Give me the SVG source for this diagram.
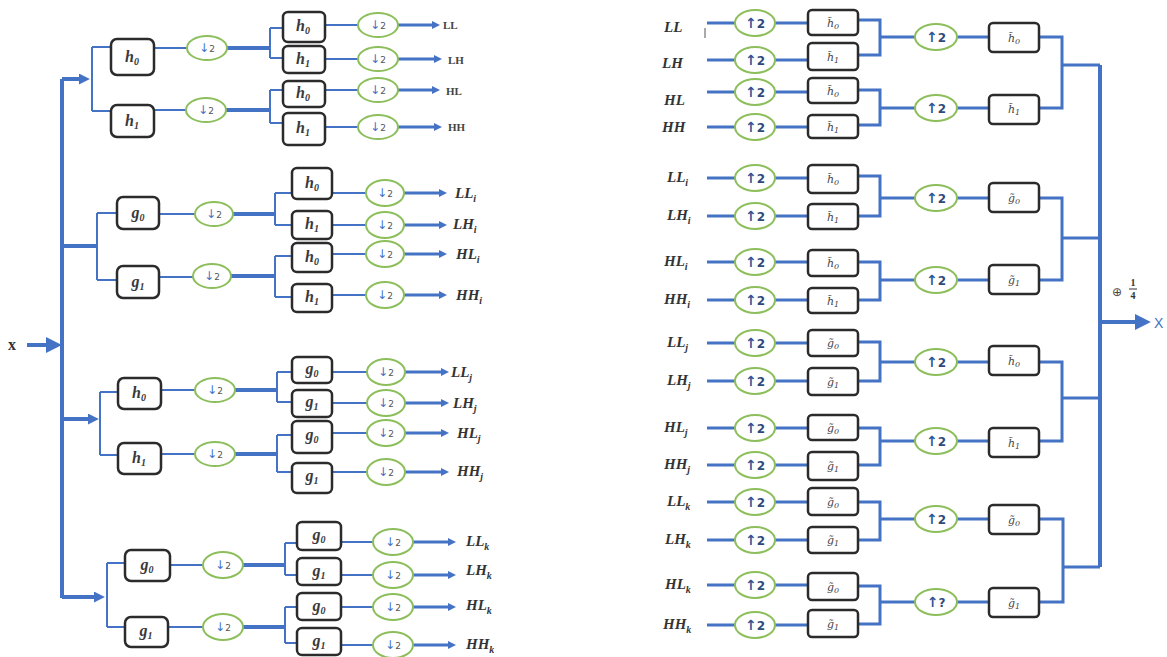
<svg xmlns="http://www.w3.org/2000/svg" width="1167" height="657" viewBox="0 0 1167 657">
<defs>
<style>
.ln{stroke:#4472C4;stroke-width:2;fill:none}
.md{stroke:#4472C4;stroke-width:3;fill:none}
.tk{stroke:#4472C4;stroke-width:4;fill:none}
.bx{fill:#fff;stroke:#2b2b2b;stroke-width:2.5}
.el{fill:#fff;stroke:#8CBF5B;stroke-width:2}
.bt{font-family:"Liberation Serif",serif;font-style:italic;font-weight:bold;font-size:16px;fill:#3a3a3a;text-anchor:middle}
.bs{font-size:10px}
.rt{font-family:"DejaVu Serif","Liberation Serif",serif;font-style:italic;font-size:11px;fill:#444;text-anchor:middle}
.rs{font-size:8px}
.dt{font-family:"DejaVu Sans",sans-serif;text-anchor:middle}
.dn{font-size:12px;fill:#4472C4}
.d2{font-size:9px;fill:#555}
.up{font-size:14px;font-weight:bold;fill:#2F5597}
.u2{font-size:12px;font-weight:bold;fill:#2F4A7A}
.lt{font-family:"Liberation Serif",serif;font-weight:bold;font-size:11px;fill:#444}
.lbl{font-family:"Liberation Serif",serif;font-weight:bold;font-style:italic;font-size:15px;fill:#333}
.sb{font-size:10px}
</style>
<marker id="as" viewBox="0 0 8 8" refX="1" refY="4" markerWidth="8" markerHeight="8" markerUnits="userSpaceOnUse" orient="auto"><path d="M0 0L8 4L0 8z" fill="#4472C4"/></marker>
<marker id="am" viewBox="0 0 10 10" refX="1" refY="5" markerWidth="11" markerHeight="11" markerUnits="userSpaceOnUse" orient="auto"><path d="M0 0L10 5L0 10z" fill="#4472C4"/></marker>
<marker id="al" viewBox="0 0 14 14" refX="1" refY="7" markerWidth="16" markerHeight="16" markerUnits="userSpaceOnUse" orient="auto"><path d="M0 0L14 7L0 14z" fill="#4472C4"/></marker>
</defs>
<rect width="1167" height="657" fill="#fff"/>

<g id="connectors">
<path class="tk" d="M27 345H47" stroke-width="7" marker-end="url(#al)"/>
<path class="tk" d="M62 79V598"/>
<path class="tk" d="M62 79H80" marker-end="url(#am)"/>
<path class="tk" d="M62 246H97" stroke-width="6"/>
<path class="tk" d="M62 419H89" stroke-width="5" marker-end="url(#am)"/>
<path class="tk" d="M62 597H95" marker-end="url(#am)"/>
<path class="ln" d="M92 47V111M92 47H111M92 111H111M154 48H187M154 110H186"/>
<path class="tk" d="M227 48H270M226 110H270"/>
<path class="ln" d="M270 28V58M270 28H283M270 58H283M270 90V123M270 90H283M270 123H283"/>
<path class="ln" d="M325 25H358M325 59H358M325 90H358M325 127H358"/>
<path class="md" d="M398 25H433" marker-end="url(#as)"/>
<path class="md" d="M398 59H435" marker-end="url(#as)"/>
<path class="md" d="M398 90H433" marker-end="url(#as)"/>
<path class="md" d="M398 127H435" marker-end="url(#as)"/>
<path class="ln" d="M97 213V280M97 213H117M97 280H117M159 214H195M159 277H193"/>
<path class="tk" d="M233 214H275M231 276H275"/>
<path class="ln" d="M275 193V225M275 193H292M275 225H292M275 256V297M275 256H292M275 297H292"/>
<path class="ln" d="M332 193H366M332 225H366M332 254H366M332 295H366"/>
<path class="md" d="M404 193H440" marker-end="url(#as)"/>
<path class="md" d="M404 225H440" marker-end="url(#as)"/>
<path class="md" d="M404 254H440" marker-end="url(#as)"/>
<path class="md" d="M404 295H440" marker-end="url(#as)"/>
<path class="ln" d="M100 392V455M100 392H118M100 455H118M161 390H195M161 454H195"/>
<path class="tk" d="M235 390H277M235 454H277"/>
<path class="ln" d="M277 372V402M277 372H292M277 402H292M277 435V472M277 435H292M277 472H292"/>
<path class="ln" d="M332 372H367M332 403H367M332 433H367M332 472H367"/>
<path class="md" d="M405 372H442" marker-end="url(#as)"/>
<path class="md" d="M405 403H442" marker-end="url(#as)"/>
<path class="md" d="M405 433H442" marker-end="url(#as)"/>
<path class="md" d="M405 472H442" marker-end="url(#as)"/>
<path class="ln" d="M107 563V627M107 563H125M107 627H125M170 565H203M168 627H203"/>
<path class="tk" d="M243 565H285M243 627H285"/>
<path class="ln" d="M285 543V575M285 543H297M285 575H297M285 607V643M285 607H297M285 643H297"/>
<path class="ln" d="M341 542H373M341 575H373M341 607H373M341 645H373"/>
<path class="md" d="M413 542H449" marker-end="url(#as)"/>
<path class="md" d="M413 575H449" marker-end="url(#as)"/>
<path class="md" d="M413 607H449" marker-end="url(#as)"/>
<path class="md" d="M413 645H449" marker-end="url(#as)"/>
<path class="md" d="M707 23H735M707 60H735M707 92H735M707 127H735M707 178H735M707 216H735M707 262H735M707 300H735M707 343H735M707 381H735M707 428H735M707 465H735M707 502H735M707 540H735M707 585H735M707 625H735"/>
<path class="md" d="M775 23H808M775 60H808M775 92H808M775 127H808M775 178H808M775 216H808M775 262H808M775 300H808M775 343H808M775 381H808M775 428H808M775 465H808M775 502H808M775 540H808M775 585H808M775 625H808"/>
<path class="md" d="M858 20H880V55H858M880 37H915"/>
<path class="md" d="M858 90H880V125H858M880 108H915"/>
<path class="md" d="M858 176H880V216H858M880 198H915"/>
<path class="md" d="M858 262H880V300H858M880 280H915"/>
<path class="md" d="M858 342H880V381H858M880 362H915"/>
<path class="md" d="M858 428H880V465H858M880 441H915"/>
<path class="md" d="M858 502H880V540H858M880 519H915"/>
<path class="md" d="M858 586H880V624H858M880 602H915"/>
<path class="md" d="M957 37H989M957 108H989M957 198H989M957 280H989M957 362H989M957 441H989M957 519H989M957 602H989"/>
<path class="md" d="M1039 37H1062V108H1039M1062 65H1100"/>
<path class="md" d="M1039 198H1062V280H1039M1062 238H1100"/>
<path class="md" d="M1039 362H1062V441H1039M1062 398H1100"/>
<path class="md" d="M1039 519H1063V602H1039M1063 567H1100"/>
<path class="tk" d="M1100 65V567"/>
<path class="tk" d="M1100 322H1136" stroke-width="7" marker-end="url(#al)"/>
<path d="M705 28V38" stroke="#555" stroke-width="1"/>
</g>

<g id="x-in"><text x="8" y="350" font-family="Liberation Serif,serif" font-weight="bold" font-size="16" fill="#333">x</text></g>

<g id="LA-h0"><rect class="bx" x="111" y="39" width="43" height="36" rx="6"/><text class="bt" x="132" y="62">h<tspan class="bs" dy="3">0</tspan></text></g>
<g id="LA-h1"><rect class="bx" x="111" y="105" width="43" height="32" rx="6"/><text class="bt" x="132" y="126">h<tspan class="bs" dy="3">1</tspan></text></g>
<g id="LA-d0"><ellipse class="el" cx="207" cy="48" rx="20" ry="12"/><text class="dt" x="207" y="52"><tspan class="dn">↓</tspan><tspan class="d2">2</tspan></text></g>
<g id="LA-d1"><ellipse class="el" cx="206" cy="110" rx="20" ry="12"/><text class="dt" x="206" y="114"><tspan class="dn">↓</tspan><tspan class="d2">2</tspan></text></g>
<g id="LA-s0"><rect class="bx" x="283" y="12" width="42" height="30" rx="5"/><text class="bt" x="303" y="31">h<tspan class="bs" dy="3">0</tspan></text></g>
<g id="LA-s1"><rect class="bx" x="283" y="46" width="42" height="27" rx="5"/><text class="bt" x="303" y="64">h<tspan class="bs" dy="3">1</tspan></text></g>
<g id="LA-s2"><rect class="bx" x="283" y="81" width="42" height="26" rx="5"/><text class="bt" x="303" y="98">h<tspan class="bs" dy="3">0</tspan></text></g>
<g id="LA-s3"><rect class="bx" x="283" y="113" width="42" height="32" rx="5"/><text class="bt" x="303" y="133">h<tspan class="bs" dy="3">1</tspan></text></g>
<g id="LA-e0"><ellipse class="el" cx="378" cy="25" rx="20" ry="12"/><text class="dt" x="378" y="29"><tspan class="dn">↓</tspan><tspan class="d2">2</tspan></text></g>
<g id="LA-e1"><ellipse class="el" cx="378" cy="59" rx="20" ry="12"/><text class="dt" x="378" y="63"><tspan class="dn">↓</tspan><tspan class="d2">2</tspan></text></g>
<g id="LA-e2"><ellipse class="el" cx="378" cy="90" rx="20" ry="12"/><text class="dt" x="378" y="94"><tspan class="dn">↓</tspan><tspan class="d2">2</tspan></text></g>
<g id="LA-e3"><ellipse class="el" cx="378" cy="127" rx="20" ry="12"/><text class="dt" x="378" y="131"><tspan class="dn">↓</tspan><tspan class="d2">2</tspan></text></g>
<g id="LA-lbl"><text class="lt" x="443" y="29">LL</text><text class="lt" x="448" y="64">LH</text><text class="lt" x="446" y="95">HL</text><text class="lt" x="448" y="131">HH</text></g>

<g id="LB-g0"><rect class="bx" x="117" y="197" width="42" height="32" rx="6"/><text class="bt" x="138" y="218">g<tspan class="bs" dy="3">0</tspan></text></g>
<g id="LB-g1"><rect class="bx" x="117" y="266" width="42" height="32" rx="6"/><text class="bt" x="138" y="287">g<tspan class="bs" dy="3">1</tspan></text></g>
<g id="LB-d0"><ellipse class="el" cx="214" cy="214" rx="19" ry="12"/><text class="dt" x="214" y="218"><tspan class="dn">↓</tspan><tspan class="d2">2</tspan></text></g>
<g id="LB-d1"><ellipse class="el" cx="212" cy="276" rx="19" ry="12"/><text class="dt" x="212" y="280"><tspan class="dn">↓</tspan><tspan class="d2">2</tspan></text></g>
<g id="LB-s0"><rect class="bx" x="292" y="168" width="40" height="31" rx="5"/><text class="bt" x="312" y="188">h<tspan class="bs" dy="3">0</tspan></text></g>
<g id="LB-s1"><rect class="bx" x="292" y="211" width="40" height="28" rx="5"/><text class="bt" x="312" y="229">h<tspan class="bs" dy="3">1</tspan></text></g>
<g id="LB-s2"><rect class="bx" x="292" y="243" width="40" height="29" rx="5"/><text class="bt" x="312" y="262">h<tspan class="bs" dy="3">0</tspan></text></g>
<g id="LB-s3"><rect class="bx" x="292" y="284" width="40" height="28" rx="5"/><text class="bt" x="312" y="302">h<tspan class="bs" dy="3">1</tspan></text></g>
<g id="LB-e0"><ellipse class="el" cx="385" cy="193" rx="19" ry="13"/><text class="dt" x="385" y="197"><tspan class="dn">↓</tspan><tspan class="d2">2</tspan></text></g>
<g id="LB-e1"><ellipse class="el" cx="385" cy="225" rx="19" ry="13"/><text class="dt" x="385" y="229"><tspan class="dn">↓</tspan><tspan class="d2">2</tspan></text></g>
<g id="LB-e2"><ellipse class="el" cx="385" cy="254" rx="19" ry="13"/><text class="dt" x="385" y="258"><tspan class="dn">↓</tspan><tspan class="d2">2</tspan></text></g>
<g id="LB-e3"><ellipse class="el" cx="385" cy="295" rx="19" ry="13"/><text class="dt" x="385" y="299"><tspan class="dn">↓</tspan><tspan class="d2">2</tspan></text></g>
<g id="LB-lbl"><text class="lbl" x="455" y="198">LL<tspan class="sb" dy="4">i</tspan></text><text class="lbl" x="453" y="229">LH<tspan class="sb" dy="4">i</tspan></text><text class="lbl" x="456" y="259">HL<tspan class="sb" dy="4">i</tspan></text><text class="lbl" x="456" y="300">HH<tspan class="sb" dy="4">i</tspan></text></g>

<g id="LC-h0"><rect class="bx" x="118" y="378" width="43" height="31" rx="6"/><text class="bt" x="139" y="398">h<tspan class="bs" dy="3">0</tspan></text></g>
<g id="LC-h1"><rect class="bx" x="118" y="443" width="43" height="31" rx="6"/><text class="bt" x="139" y="463">h<tspan class="bs" dy="3">1</tspan></text></g>
<g id="LC-d0"><ellipse class="el" cx="215" cy="390" rx="20" ry="12"/><text class="dt" x="215" y="394"><tspan class="dn">↓</tspan><tspan class="d2">2</tspan></text></g>
<g id="LC-d1"><ellipse class="el" cx="215" cy="454" rx="20" ry="12"/><text class="dt" x="215" y="458"><tspan class="dn">↓</tspan><tspan class="d2">2</tspan></text></g>
<g id="LC-s0"><rect class="bx" x="292" y="357" width="40" height="26" rx="5"/><text class="bt" x="312" y="374">g<tspan class="bs" dy="3">0</tspan></text></g>
<g id="LC-s1"><rect class="bx" x="292" y="390" width="40" height="27" rx="5"/><text class="bt" x="312" y="407">g<tspan class="bs" dy="3">1</tspan></text></g>
<g id="LC-s2"><rect class="bx" x="292" y="421" width="40" height="32" rx="5"/><text class="bt" x="312" y="440">g<tspan class="bs" dy="3">0</tspan></text></g>
<g id="LC-s3"><rect class="bx" x="292" y="463" width="40" height="30" rx="5"/><text class="bt" x="312" y="481">g<tspan class="bs" dy="3">1</tspan></text></g>
<g id="LC-e0"><ellipse class="el" cx="386" cy="372" rx="19" ry="13"/><text class="dt" x="386" y="376"><tspan class="dn">↓</tspan><tspan class="d2">2</tspan></text></g>
<g id="LC-e1"><ellipse class="el" cx="386" cy="403" rx="19" ry="13"/><text class="dt" x="386" y="407"><tspan class="dn">↓</tspan><tspan class="d2">2</tspan></text></g>
<g id="LC-e2"><ellipse class="el" cx="386" cy="433" rx="19" ry="13"/><text class="dt" x="386" y="437"><tspan class="dn">↓</tspan><tspan class="d2">2</tspan></text></g>
<g id="LC-e3"><ellipse class="el" cx="386" cy="472" rx="19" ry="13"/><text class="dt" x="386" y="476"><tspan class="dn">↓</tspan><tspan class="d2">2</tspan></text></g>
<g id="LC-lbl"><text class="lbl" x="451" y="377">LL<tspan class="sb" dy="4">j</tspan></text><text class="lbl" x="453" y="408">LH<tspan class="sb" dy="4">j</tspan></text><text class="lbl" x="457" y="438">HL<tspan class="sb" dy="4">j</tspan></text><text class="lbl" x="457" y="476">HH<tspan class="sb" dy="4">j</tspan></text></g>

<g id="LD-g0"><rect class="bx" x="125" y="550" width="45" height="31" rx="6"/><text class="bt" x="147" y="570">g<tspan class="bs" dy="3">0</tspan></text></g>
<g id="LD-g1"><rect class="bx" x="125" y="617" width="43" height="30" rx="6"/><text class="bt" x="146" y="636">g<tspan class="bs" dy="3">1</tspan></text></g>
<g id="LD-d0"><ellipse class="el" cx="223" cy="565" rx="20" ry="13"/><text class="dt" x="223" y="569"><tspan class="dn">↓</tspan><tspan class="d2">2</tspan></text></g>
<g id="LD-d1"><ellipse class="el" cx="223" cy="627" rx="20" ry="13"/><text class="dt" x="223" y="631"><tspan class="dn">↓</tspan><tspan class="d2">2</tspan></text></g>
<g id="LD-s0"><rect class="bx" x="297" y="522" width="44" height="28" rx="5"/><text class="bt" x="319" y="540">g<tspan class="bs" dy="3">0</tspan></text></g>
<g id="LD-s1"><rect class="bx" x="297" y="558" width="44" height="27" rx="5"/><text class="bt" x="319" y="576">g<tspan class="bs" dy="3">1</tspan></text></g>
<g id="LD-s2"><rect class="bx" x="297" y="593" width="44" height="27" rx="5"/><text class="bt" x="319" y="611">g<tspan class="bs" dy="3">0</tspan></text></g>
<g id="LD-s3"><rect class="bx" x="297" y="628" width="44" height="27" rx="5"/><text class="bt" x="319" y="646">g<tspan class="bs" dy="3">1</tspan></text></g>
<g id="LD-e0"><ellipse class="el" cx="393" cy="542" rx="20" ry="13"/><text class="dt" x="393" y="546"><tspan class="dn">↓</tspan><tspan class="d2">2</tspan></text></g>
<g id="LD-e1"><ellipse class="el" cx="393" cy="575" rx="20" ry="13"/><text class="dt" x="393" y="579"><tspan class="dn">↓</tspan><tspan class="d2">2</tspan></text></g>
<g id="LD-e2"><ellipse class="el" cx="393" cy="607" rx="20" ry="13"/><text class="dt" x="393" y="611"><tspan class="dn">↓</tspan><tspan class="d2">2</tspan></text></g>
<g id="LD-e3"><ellipse class="el" cx="393" cy="645" rx="20" ry="13"/><text class="dt" x="393" y="649"><tspan class="dn">↓</tspan><tspan class="d2">2</tspan></text></g>
<g id="LD-lbl"><text class="lbl" x="466" y="546">LL<tspan class="sb" dy="4">k</tspan></text><text class="lbl" x="466" y="575">LH<tspan class="sb" dy="4">k</tspan></text><text class="lbl" x="466" y="610">HL<tspan class="sb" dy="4">k</tspan></text><text class="lbl" x="466" y="649">HH<tspan class="sb" dy="4">k</tspan></text></g>

<g id="R-lbl">
<text class="lbl" x="664" y="32">LL</text><text class="lbl" x="662" y="68">LH</text><text class="lbl" x="664" y="105">HL</text><text class="lbl" x="662" y="132">HH</text>
<text class="lbl" x="667" y="182">LL<tspan class="sb" dy="4">i</tspan></text><text class="lbl" x="667" y="220">LH<tspan class="sb" dy="4">i</tspan></text><text class="lbl" x="664" y="266">HL<tspan class="sb" dy="4">i</tspan></text><text class="lbl" x="664" y="304">HH<tspan class="sb" dy="4">i</tspan></text>
<text class="lbl" x="667" y="347">LL<tspan class="sb" dy="4">j</tspan></text><text class="lbl" x="667" y="385">LH<tspan class="sb" dy="4">j</tspan></text><text class="lbl" x="664" y="432">HL<tspan class="sb" dy="4">j</tspan></text><text class="lbl" x="664" y="469">HH<tspan class="sb" dy="4">j</tspan></text>
<text class="lbl" x="667" y="506">LL<tspan class="sb" dy="4">k</tspan></text><text class="lbl" x="665" y="544">LH<tspan class="sb" dy="4">k</tspan></text><text class="lbl" x="665" y="589">HL<tspan class="sb" dy="4">k</tspan></text><text class="lbl" x="663" y="629">HH<tspan class="sb" dy="4">k</tspan></text>
</g>

<g id="R-u1">
<g id="R-u1-0"><ellipse class="el" cx="755" cy="23" rx="20" ry="13"/><text class="dt" x="755" y="28"><tspan class="up">↑</tspan><tspan class="u2">2</tspan></text></g>
<g id="R-u1-1"><ellipse class="el" cx="755" cy="60" rx="20" ry="13"/><text class="dt" x="755" y="65"><tspan class="up">↑</tspan><tspan class="u2">2</tspan></text></g>
<g id="R-u1-2"><ellipse class="el" cx="755" cy="92" rx="20" ry="13"/><text class="dt" x="755" y="97"><tspan class="up">↑</tspan><tspan class="u2">2</tspan></text></g>
<g id="R-u1-3"><ellipse class="el" cx="755" cy="127" rx="20" ry="13"/><text class="dt" x="755" y="132"><tspan class="up">↑</tspan><tspan class="u2">2</tspan></text></g>
<g id="R-u1-4"><ellipse class="el" cx="755" cy="178" rx="20" ry="13"/><text class="dt" x="755" y="183"><tspan class="up">↑</tspan><tspan class="u2">2</tspan></text></g>
<g id="R-u1-5"><ellipse class="el" cx="755" cy="216" rx="20" ry="13"/><text class="dt" x="755" y="221"><tspan class="up">↑</tspan><tspan class="u2">2</tspan></text></g>
<g id="R-u1-6"><ellipse class="el" cx="755" cy="262" rx="20" ry="13"/><text class="dt" x="755" y="267"><tspan class="up">↑</tspan><tspan class="u2">2</tspan></text></g>
<g id="R-u1-7"><ellipse class="el" cx="755" cy="300" rx="20" ry="13"/><text class="dt" x="755" y="305"><tspan class="up">↑</tspan><tspan class="u2">2</tspan></text></g>
<g id="R-u1-8"><ellipse class="el" cx="755" cy="343" rx="20" ry="13"/><text class="dt" x="755" y="348"><tspan class="up">↑</tspan><tspan class="u2">2</tspan></text></g>
<g id="R-u1-9"><ellipse class="el" cx="755" cy="381" rx="20" ry="13"/><text class="dt" x="755" y="386"><tspan class="up">↑</tspan><tspan class="u2">2</tspan></text></g>
<g id="R-u1-10"><ellipse class="el" cx="755" cy="428" rx="20" ry="13"/><text class="dt" x="755" y="433"><tspan class="up">↑</tspan><tspan class="u2">2</tspan></text></g>
<g id="R-u1-11"><ellipse class="el" cx="755" cy="465" rx="20" ry="13"/><text class="dt" x="755" y="470"><tspan class="up">↑</tspan><tspan class="u2">2</tspan></text></g>
<g id="R-u1-12"><ellipse class="el" cx="755" cy="502" rx="20" ry="13"/><text class="dt" x="755" y="507"><tspan class="up">↑</tspan><tspan class="u2">2</tspan></text></g>
<g id="R-u1-13"><ellipse class="el" cx="755" cy="540" rx="20" ry="13"/><text class="dt" x="755" y="545"><tspan class="up">↑</tspan><tspan class="u2">2</tspan></text></g>
<g id="R-u1-14"><ellipse class="el" cx="755" cy="585" rx="20" ry="13"/><text class="dt" x="755" y="590"><tspan class="up">↑</tspan><tspan class="u2">2</tspan></text></g>
<g id="R-u1-15"><ellipse class="el" cx="755" cy="625" rx="20" ry="13"/><text class="dt" x="755" y="630"><tspan class="up">↑</tspan><tspan class="u2">2</tspan></text></g>
</g>

<g id="R-f1">
<g id="R-f1-0"><rect class="bx" x="808" y="10" width="50" height="25" rx="4"/><text class="rt" x="833" y="27">h̃<tspan class="rs" dy="2">0</tspan></text></g>
<g id="R-f1-1"><rect class="bx" x="808" y="43" width="50" height="27" rx="4"/><text class="rt" x="833" y="61">h̃<tspan class="rs" dy="2">1</tspan></text></g>
<g id="R-f1-2"><rect class="bx" x="808" y="78" width="50" height="25" rx="4"/><text class="rt" x="833" y="95">h̃<tspan class="rs" dy="2">0</tspan></text></g>
<g id="R-f1-3"><rect class="bx" x="808" y="115" width="50" height="23" rx="4"/><text class="rt" x="833" y="131">h̃<tspan class="rs" dy="2">1</tspan></text></g>
<g id="R-f1-4"><rect class="bx" x="808" y="165" width="50" height="28" rx="4"/><text class="rt" x="833" y="183">h̃<tspan class="rs" dy="2">0</tspan></text></g>
<g id="R-f1-5"><rect class="bx" x="808" y="204" width="50" height="25" rx="4"/><text class="rt" x="833" y="221">h̃<tspan class="rs" dy="2">1</tspan></text></g>
<g id="R-f1-6"><rect class="bx" x="808" y="250" width="50" height="26" rx="4"/><text class="rt" x="833" y="267">h̃<tspan class="rs" dy="2">0</tspan></text></g>
<g id="R-f1-7"><rect class="bx" x="808" y="288" width="50" height="25" rx="4"/><text class="rt" x="833" y="305">h̃<tspan class="rs" dy="2">1</tspan></text></g>
<g id="R-f1-8"><rect class="bx" x="808" y="330" width="50" height="26" rx="4"/><text class="rt" x="833" y="347">g̃<tspan class="rs" dy="2">0</tspan></text></g>
<g id="R-f1-9"><rect class="bx" x="808" y="368" width="50" height="27" rx="4"/><text class="rt" x="833" y="386">g̃<tspan class="rs" dy="2">1</tspan></text></g>
<g id="R-f1-10"><rect class="bx" x="808" y="415" width="50" height="25" rx="4"/><text class="rt" x="833" y="432">g̃<tspan class="rs" dy="2">0</tspan></text></g>
<g id="R-f1-11"><rect class="bx" x="808" y="452" width="50" height="28" rx="4"/><text class="rt" x="833" y="470">g̃<tspan class="rs" dy="2">1</tspan></text></g>
<g id="R-f1-12"><rect class="bx" x="808" y="488" width="50" height="27" rx="4"/><text class="rt" x="833" y="506">g̃<tspan class="rs" dy="2">0</tspan></text></g>
<g id="R-f1-13"><rect class="bx" x="808" y="527" width="50" height="26" rx="4"/><text class="rt" x="833" y="544">g̃<tspan class="rs" dy="2">1</tspan></text></g>
<g id="R-f1-14"><rect class="bx" x="808" y="573" width="50" height="27" rx="4"/><text class="rt" x="833" y="591">g̃<tspan class="rs" dy="2">0</tspan></text></g>
<g id="R-f1-15"><rect class="bx" x="808" y="610" width="50" height="27" rx="4"/><text class="rt" x="833" y="628">g̃<tspan class="rs" dy="2">1</tspan></text></g>
</g>

<g id="R-u2">
<g id="R-u2-0"><ellipse class="el" cx="936" cy="37" rx="21" ry="13"/><text class="dt" x="936" y="42"><tspan class="up">↑</tspan><tspan class="u2">2</tspan></text></g>
<g id="R-u2-1"><ellipse class="el" cx="936" cy="108" rx="21" ry="13"/><text class="dt" x="936" y="113"><tspan class="up">↑</tspan><tspan class="u2">2</tspan></text></g>
<g id="R-u2-2"><ellipse class="el" cx="936" cy="198" rx="21" ry="13"/><text class="dt" x="936" y="203"><tspan class="up">↑</tspan><tspan class="u2">2</tspan></text></g>
<g id="R-u2-3"><ellipse class="el" cx="936" cy="280" rx="21" ry="13"/><text class="dt" x="936" y="285"><tspan class="up">↑</tspan><tspan class="u2">2</tspan></text></g>
<g id="R-u2-4"><ellipse class="el" cx="936" cy="362" rx="21" ry="13"/><text class="dt" x="936" y="367"><tspan class="up">↑</tspan><tspan class="u2">2</tspan></text></g>
<g id="R-u2-5"><ellipse class="el" cx="936" cy="441" rx="21" ry="13"/><text class="dt" x="936" y="446"><tspan class="up">↑</tspan><tspan class="u2">2</tspan></text></g>
<g id="R-u2-6"><ellipse class="el" cx="936" cy="519" rx="21" ry="13"/><text class="dt" x="936" y="524"><tspan class="up">↑</tspan><tspan class="u2">2</tspan></text></g>
<g id="R-u2-7"><ellipse class="el" cx="936" cy="602" rx="21" ry="13"/><text class="dt" x="936" y="607"><tspan class="up">↑</tspan><tspan class="u2">?</tspan></text></g>
</g>

<g id="R-f2">
<g id="R-f2-0"><rect class="bx" x="989" y="23" width="50" height="29" rx="4"/><text class="rt" x="1014" y="42">h̃<tspan class="rs" dy="2">0</tspan></text></g>
<g id="R-f2-1"><rect class="bx" x="989" y="95" width="50" height="29" rx="4"/><text class="rt" x="1014" y="113">h̃<tspan class="rs" dy="2">1</tspan></text></g>
<g id="R-f2-2"><rect class="bx" x="989" y="183" width="50" height="29" rx="4"/><text class="rt" x="1014" y="202">g̃<tspan class="rs" dy="2">0</tspan></text></g>
<g id="R-f2-3"><rect class="bx" x="989" y="265" width="50" height="29" rx="4"/><text class="rt" x="1014" y="284">g̃<tspan class="rs" dy="2">1</tspan></text></g>
<g id="R-f2-4"><rect class="bx" x="989" y="346" width="50" height="29" rx="4"/><text class="rt" x="1014" y="365">h̃<tspan class="rs" dy="2">0</tspan></text></g>
<g id="R-f2-5"><rect class="bx" x="989" y="428" width="50" height="29" rx="4"/><text class="rt" x="1014" y="447">h̃<tspan class="rs" dy="2">1</tspan></text></g>
<g id="R-f2-6"><rect class="bx" x="989" y="505" width="50" height="29" rx="4"/><text class="rt" x="1014" y="524">g̃<tspan class="rs" dy="2">0</tspan></text></g>
<g id="R-f2-7"><rect class="bx" x="989" y="588" width="50" height="29" rx="4"/><text class="rt" x="1014" y="607">g̃<tspan class="rs" dy="2">1</tspan></text></g>
</g>

<g id="R-out">
<text x="1112" y="296" font-family="DejaVu Sans,sans-serif" font-size="12" fill="#444">⊕</text>
<text x="1133" y="286" font-family="Liberation Serif,serif" font-weight="bold" font-size="10" fill="#333" text-anchor="middle">1</text>
<line x1="1129" y1="289" x2="1137" y2="289" stroke="#333" stroke-width="1"/>
<text x="1133" y="299" font-family="Liberation Serif,serif" font-weight="bold" font-size="10" fill="#333" text-anchor="middle">4</text>
<text x="1154" y="328" font-family="Liberation Sans,sans-serif" font-size="14" fill="#4472C4">X</text>
</g>
</svg>
